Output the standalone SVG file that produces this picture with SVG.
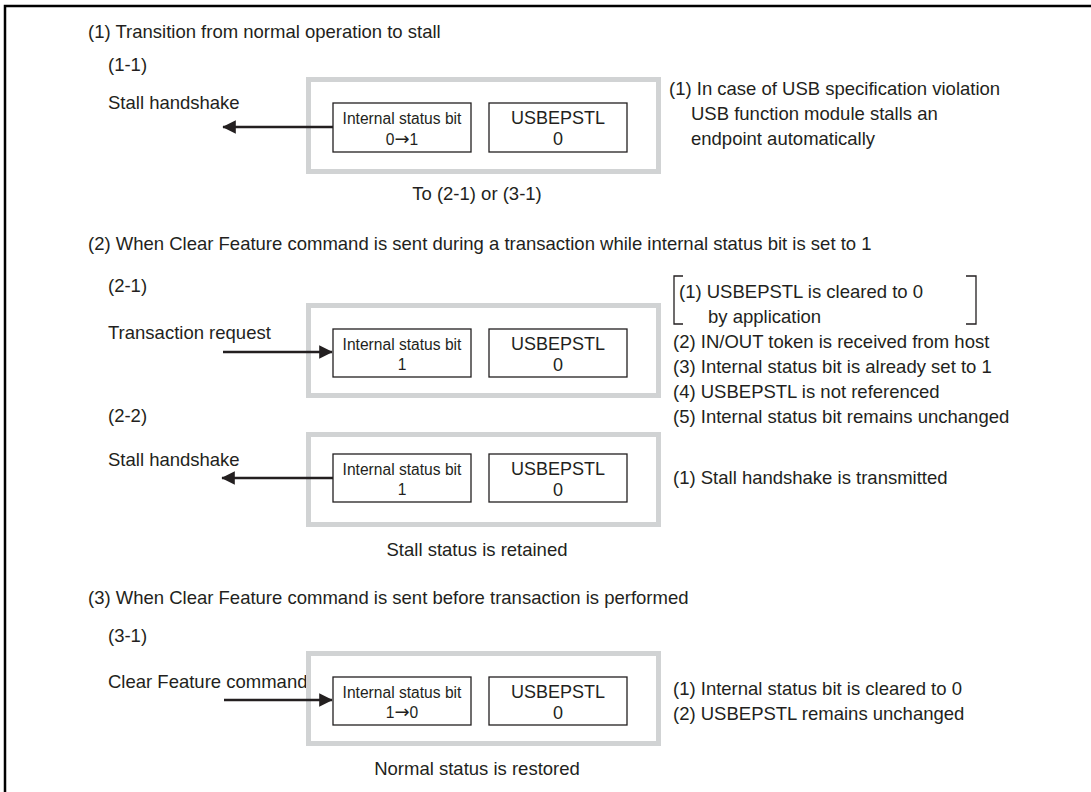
<svg xmlns="http://www.w3.org/2000/svg" width="1091" height="792" viewBox="0 0 1091 792">
<defs>
<style>
text{font-family:"Liberation Sans",Arial,sans-serif;fill:#231f20;}
.t{font-size:18.5px;}
.s{font-size:15.6px;}
.u{font-size:18px;}
.c{text-anchor:middle;}
.ar{font-family:"DejaVu Sans",sans-serif;font-size:18px;}
.grey{fill:none;stroke:#d1d3d4;stroke-width:5;}
.box{fill:#fff;stroke:#231f20;stroke-width:1.3;}
.ln{stroke:#231f20;stroke-width:2.7;fill:none;}
.br{stroke:#231f20;stroke-width:1.3;fill:none;}
</style>
<marker id="ah" viewBox="0 0 10 10" refX="9.5" refY="5" markerWidth="5" markerHeight="5" orient="auto" markerUnits="strokeWidth">
<path d="M0,0 L10,5 L0,10 z" fill="#231f20"/>
</marker>
</defs>
<rect width="1091" height="792" fill="#fff"/>
<path d="M5,792 L5,6 L1091,6" fill="none" stroke="#000" stroke-width="2.5"/>

<!-- Section 1 -->
<text class="t" x="88" y="38">(1) Transition from normal operation to stall</text>
<text class="t" x="108" y="71">(1-1)</text>
<text class="t" x="108" y="109">Stall handshake</text>
<g id="block11">
<rect class="grey" x="308.5" y="79.5" width="350" height="92"/>
<g id="isb11"><rect class="box" x="333" y="103" width="138" height="49"/>
<text class="s c" x="402" y="124">Internal status bit</text>
<text class="s c" x="402" y="145">0<tspan class="ar">→</tspan>1</text></g>
<g id="usb11"><rect class="box" x="489" y="103" width="138" height="49"/>
<text class="u c" x="558" y="124">USBEPSTL</text>
<text class="u c" x="558" y="145">0</text></g>
</g>
<text class="t c" x="477" y="200">To (2-1) or (3-1)</text>
<text class="t" x="669" y="95">(1) In case of USB specification violation</text>
<text class="t" x="691" y="120">USB function module stalls an</text>
<text class="t" x="691" y="145">endpoint automatically</text>

<!-- Section 2 -->
<text class="t" x="88" y="250">(2) When Clear Feature command is sent during a transaction while internal status bit is set to 1</text>
<text class="t" x="108" y="292">(2-1)</text>
<text class="t" x="108" y="339">Transaction request</text>
<g id="block21">
<rect class="grey" x="308.5" y="305.5" width="350" height="90"/>
<g id="isb21"><rect class="box" x="333" y="329" width="138" height="48"/>
<text class="s c" x="402" y="350">Internal status bit</text>
<text class="s c" x="402" y="370">1</text></g>
<g id="usb21"><rect class="box" x="489" y="329" width="138" height="48"/>
<text class="u c" x="558" y="350">USBEPSTL</text>
<text class="u c" x="558" y="371">0</text></g>
</g>
<path class="br" d="M683,276 L674,276 L674,324 L683,324 M966,276 L976,276 L976,324 L966,324"/>
<text class="t" x="679" y="298">(1) USBEPSTL is cleared to 0</text>
<text class="t" x="708" y="323">by application</text>
<text class="t" x="673" y="348">(2) IN/OUT token is received from host</text>
<text class="t" x="673" y="373">(3) Internal status bit is already set to 1</text>
<text class="t" x="673" y="398">(4) USBEPSTL is not referenced</text>
<text class="t" x="673" y="423">(5) Internal status bit remains unchanged</text>

<text class="t" x="108" y="422">(2-2)</text>
<text class="t" x="108" y="466">Stall handshake</text>
<g id="block22">
<rect class="grey" x="308.5" y="434.5" width="350" height="90"/>
<g id="isb22"><rect class="box" x="333" y="454" width="138" height="48"/>
<text class="s c" x="402" y="475">Internal status bit</text>
<text class="s c" x="402" y="495">1</text></g>
<g id="usb22"><rect class="box" x="489" y="454" width="138" height="48"/>
<text class="u c" x="558" y="475">USBEPSTL</text>
<text class="u c" x="558" y="496">0</text></g>
</g>
<text class="t c" x="477" y="556">Stall status is retained</text>
<text class="t" x="673" y="484">(1) Stall handshake is transmitted</text>

<!-- Section 3 -->
<text class="t" x="88" y="604">(3) When Clear Feature command is sent before transaction is performed</text>
<text class="t" x="108" y="642">(3-1)</text>
<text class="t" x="108" y="688">Clear Feature command</text>
<g id="block31">
<rect class="grey" x="308.5" y="653.5" width="350" height="90"/>
<g id="isb31"><rect class="box" x="333" y="677" width="138" height="48"/>
<text class="s c" x="402" y="698">Internal status bit</text>
<text class="s c" x="402" y="718">1<tspan class="ar">→</tspan>0</text></g>
<g id="usb31"><rect class="box" x="489" y="677" width="138" height="48"/>
<text class="u c" x="558" y="698">USBEPSTL</text>
<text class="u c" x="558" y="719">0</text></g>
</g>
<text class="t c" x="477" y="775">Normal status is restored</text>
<text class="t" x="673" y="695">(1) Internal status bit is cleared to 0</text>
<text class="t" x="673" y="720">(2) USBEPSTL remains unchanged</text>

<g id="connectors">
<line class="ln" x1="333" y1="127" x2="223" y2="127" marker-end="url(#ah)"/>
<line class="ln" x1="223" y1="352" x2="332" y2="352" marker-end="url(#ah)"/>
<line class="ln" x1="333" y1="478" x2="222" y2="478" marker-end="url(#ah)"/>
<line class="ln" x1="224" y1="700" x2="332" y2="700" marker-end="url(#ah)"/>
</g>
</svg>
